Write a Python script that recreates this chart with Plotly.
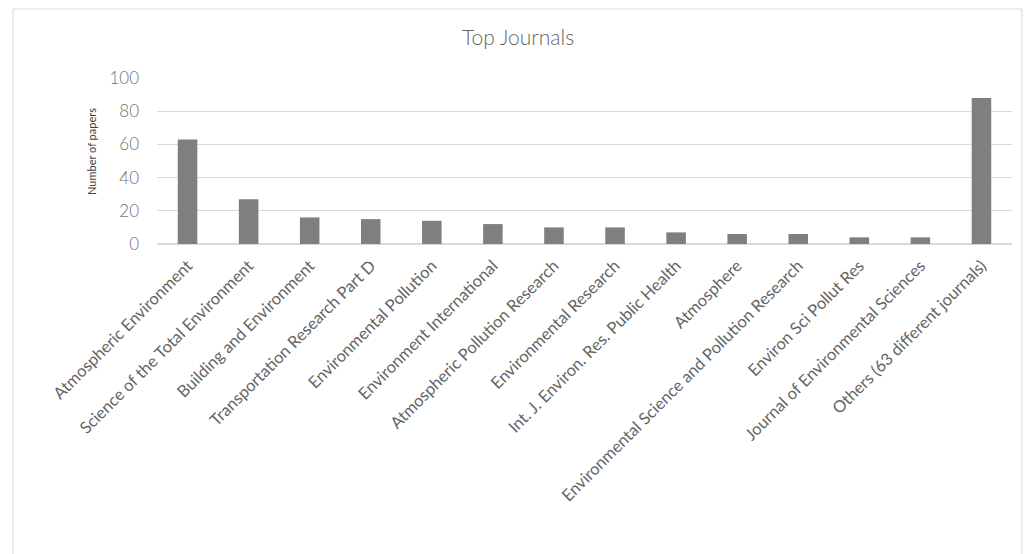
import plotly.graph_objects as go

journals = [
    "Atmospheric Environment",
    "Science of the Total Environment",
    "Building and Environment",
    "Transportation Research Part D",
    "Environmental Pollution",
    "Environment International",
    "Atmospheric Pollution Research",
    "Environmental Research",
    "Int. J. Environ. Res. Public Health",
    "Atmosphere",
    "Environmental Science and Pollution Research",
    "Environ Sci Pollut Res",
    "Journal of Environmental Sciences",
    "Others (63 different journals)",
]
papers = [63, 27, 16, 15, 14, 12, 10, 10, 7, 6, 6, 4, 4, 88]
y_ticks = [0, 20, 40, 60, 80, 100]

FONT = "Lato, 'Open Sans', sans-serif"

fig = go.Figure(go.Bar(x=journals, y=papers, marker=dict(color="#7f7f7f", line=dict(width=0))))

W, H = 1036, 554
L, R, T, B = 157, 1012, 78, 244
pw, ph = R - L, B - T

fig.update_layout(
    width=W, height=H,
    margin=dict(l=L, r=W - R, t=T, b=H - B, pad=0),
    paper_bgcolor="white", plot_bgcolor="white",
    bargap=0.68,
    showlegend=False,
    title=dict(text="Top Journals", x=0.5, xref="container", xanchor="center",
               y=1 - 38 / H, yref="container", yanchor="middle",
               font=dict(family=FONT, size=21, color="#666666", weight=300)),
    xaxis=dict(tickangle=-45, tickfont=dict(family=FONT, size=16.5, color="#646464"),
               showgrid=False, showline=False, ticks="", automargin=False,
               ticklabelstandoff=8),
    yaxis=dict(range=[0, 100], tickvals=y_ticks,
               tickfont=dict(family=FONT, size=17, color="#6f6f6f", weight=300),
               showgrid=True, gridcolor="#d9d9d9", gridwidth=1, zeroline=True, zerolinecolor="#d9d9d9",
               showline=False, ticks="", ticklabelstandoff=17, automargin=False),
    annotations=[dict(text="Number of papers", textangle=-90, showarrow=False,
                      xref="paper", yref="paper", x=(91 - L) / pw, y=(B - 152) / ph,
                      xanchor="center", yanchor="middle",
                      font=dict(family=FONT, size=11, color="#404040"))],
    shapes=[dict(type="rect", xref="paper", yref="paper",
                 x0=(13 - L) / pw, x1=(1022 - L) / pw,
                 y0=(B - 560) / ph, y1=(B - 9) / ph,
                 line=dict(color="#d9d9d9", width=1), fillcolor="rgba(0,0,0,0)", layer="below")],
)

fig.write_html("out.html")
